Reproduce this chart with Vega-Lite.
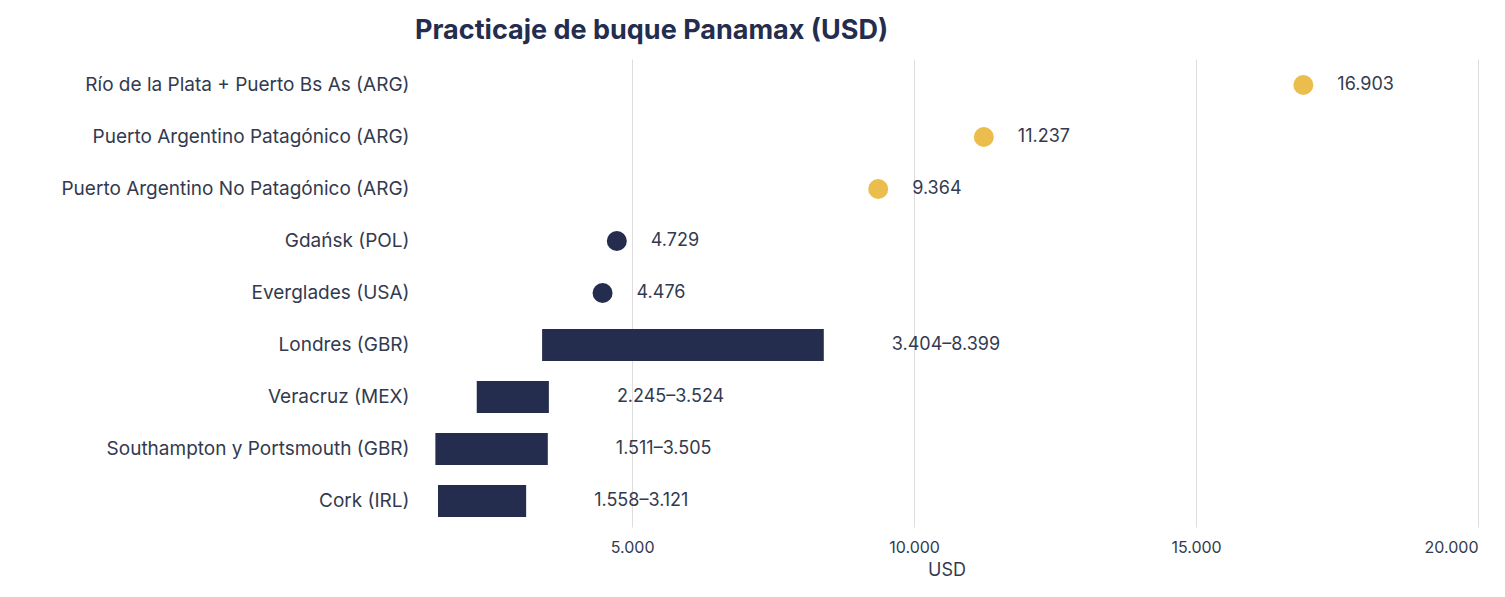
{
"$schema":"https://vega.github.io/schema/vega-lite/v6.json",
"width":1063,"height":468,
"padding":{"left":60,"top":17,"right":25,"bottom":5},
"background":"white",
"config":{"view":{"stroke":null},"font":"Inter"},
"title":{"text":"Practicaje de buque Panamax (USD)","anchor":"start","frame":"group","fontSize":27,"fontWeight":"bold","color":"#252d4f","offset":14},
"data":{"values":[
{"n":"Río de la Plata + Puerto Bs As (ARG)","lo":16903,"hi":16903,"lab":"16.903","t":"arg"},
{"n":"Puerto Argentino Patagónico (ARG)","lo":11237,"hi":11237,"lab":"11.237","t":"arg"},
{"n":"Puerto Argentino No Patagónico (ARG)","lo":9364,"hi":9364,"lab":"9.364","t":"arg"},
{"n":"Gdańsk (POL)","lo":4729,"hi":4729,"lab":"4.729","t":"pt"},
{"n":"Everglades (USA)","lo":4476,"hi":4476,"lab":"4.476","t":"pt"},
{"n":"Londres (GBR)","lo":3404,"hi":8399,"lab":"3.404–8.399","t":"range"},
{"n":"Veracruz (MEX)","lo":2245,"hi":3524,"lab":"2.245–3.524","t":"range"},
{"n":"Southampton y Portsmouth (GBR)","lo":1511,"hi":3505,"lab":"1.511–3.505","t":"range"},
{"n":"Cork (IRL)","lo":1558,"hi":3121,"lab":"1.558–3.121","t":"range"}
]},
"encoding":{
"y":{"field":"n","type":"nominal","sort":["Río de la Plata + Puerto Bs As (ARG)","Puerto Argentino Patagónico (ARG)","Puerto Argentino No Patagónico (ARG)","Gdańsk (POL)","Everglades (USA)","Londres (GBR)","Veracruz (MEX)","Southampton y Portsmouth (GBR)","Cork (IRL)"],"title":null,"axis":{"labelFontSize":19,"labelColor":"#333a4f","domain":false,"ticks":false,"labelPadding":6,"labelLimit":420}}
},
"layer":[
{"transform":[{"filter":"datum.t=='range'"}],"mark":{"type":"bar","height":32,"color":"#252d4f"},
"encoding":{"x":{"field":"lo","type":"quantitative","scale":{"domain":[1150,20000],"nice":false,"zero":false},"title":"USD","axis":{"values":[5000,10000,15000,20000],"format":",.0f","labelExpr":"replace(datum.label, ',', '.')","labelFontSize":16,"labelColor":"#333a4f","titleFontSize":18,"titleFontWeight":"normal","titleColor":"#333a4f","domain":false,"ticks":false,"gridColor":"#dddddd","labelPadding":12,"titlePadding":6}},"x2":{"field":"hi"}}},
{"transform":[{"filter":"datum.t!='range'"}],"mark":{"type":"circle","size":400,"opacity":1},
"encoding":{"x":{"field":"lo","type":"quantitative"},"color":{"field":"t","type":"nominal","scale":{"domain":["arg","pt"],"range":["#ebbd4d","#252d4f"]},"legend":null}}},
{"transform":[{"filter":"datum.t!='range'"}],"mark":{"type":"text","align":"left","dx":34,"fontSize":18,"color":"#333a4f"},
"encoding":{"x":{"field":"hi","type":"quantitative"},"text":{"field":"lab"}}},
{"transform":[{"filter":"datum.t=='range'"}],"mark":{"type":"text","align":"left","dx":68,"fontSize":18,"color":"#333a4f"},
"encoding":{"x":{"field":"hi","type":"quantitative"},"text":{"field":"lab"}}}
]
}
